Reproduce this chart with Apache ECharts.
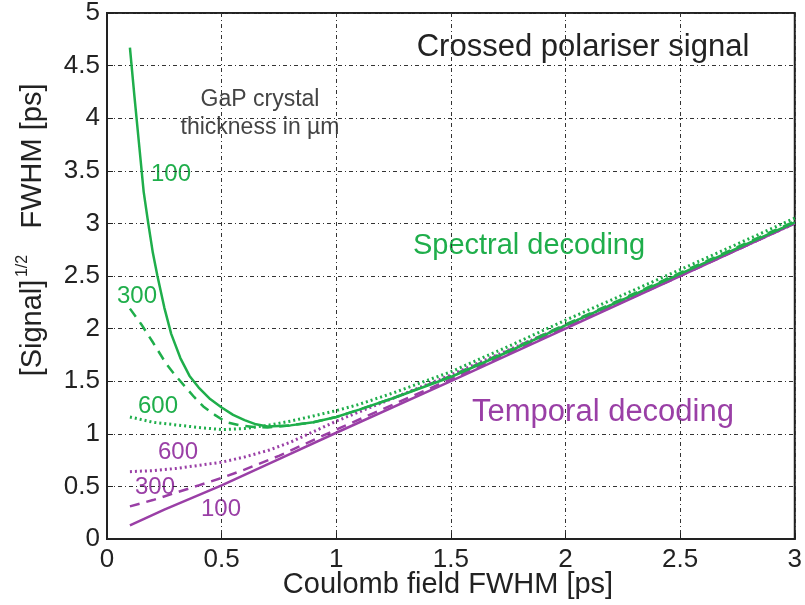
<!DOCTYPE html>
<html>
<head>
<meta charset="utf-8">
<script src="https://cdn.jsdelivr.net/npm/echarts@6/dist/echarts.min.js"></script>
<style>
  html, body { margin: 0; padding: 0; background: #fff; }
  #chart { width: 805px; height: 605px; }
</style>
</head>
<body>
<div id="chart"></div>
<script>
// values (x = Coulomb field FWHM, y = sqrt signal FWHM)
var spec100X = [0.1, 0.12, 0.14, 0.16, 0.18, 0.2, 0.22, 0.25, 0.28, 0.32, 0.36, 0.4, 0.45, 0.5, 0.55, 0.6, 0.65, 0.7, 0.8, 0.9, 1.0, 1.1, 1.25, 1.5, 1.75, 2.0, 2.5, 3.0]
var spec100Y = [4.67, 4.2, 3.75, 3.3, 3.0, 2.72, 2.5, 2.2, 1.95, 1.72, 1.55, 1.44, 1.33, 1.25, 1.18, 1.13, 1.09, 1.07, 1.08, 1.11, 1.16, 1.23, 1.34, 1.54, 1.78, 2.03, 2.52, 3.01]

var spec300X = [0.1, 0.15, 0.2, 0.26, 0.3, 0.34, 0.38, 0.42, 0.47, 0.52, 0.58, 0.64, 0.7, 0.8, 0.9, 1.0, 1.1, 1.25, 1.5, 1.75, 2.0, 2.5, 3.0]
var spec300Y = [2.19, 2.04, 1.87, 1.66, 1.55, 1.45, 1.35, 1.26, 1.18, 1.11, 1.08, 1.065, 1.06, 1.08, 1.11, 1.16, 1.23, 1.34, 1.55, 1.79, 2.04, 2.53, 3.02]

var spec600X = [0.1, 0.2, 0.28, 0.4, 0.5, 0.6, 0.7, 0.8, 0.9, 1.0, 1.1, 1.25, 1.5, 1.75, 2.0, 2.5, 3.0]
var spec600Y = [1.16, 1.11, 1.09, 1.06, 1.04, 1.05, 1.08, 1.12, 1.17, 1.22, 1.28, 1.39, 1.59, 1.83, 2.08, 2.56, 3.05]

var temp100X = [0.1, 0.25, 0.5, 0.75, 1.0, 1.5, 2.0, 2.5, 3.0]
var temp100Y = [0.13, 0.28, 0.51, 0.76, 1.01, 1.5, 2.0, 2.5, 3.0]

var temp300X = [0.1, 0.2, 0.3, 0.4, 0.5, 0.6, 0.75, 1.0, 1.25, 1.5, 2.0, 2.5, 3.0]
var temp300Y = [0.31, 0.37, 0.44, 0.51, 0.58, 0.66, 0.79, 1.04, 1.28, 1.52, 2.01, 2.5, 3.0]

var temp600X = [0.1, 0.2, 0.3, 0.4, 0.5, 0.6, 0.7, 0.8, 0.9, 1.0, 1.25, 1.5, 2.0, 2.5, 3.0]
var temp600Y = [0.64, 0.65, 0.67, 0.7, 0.73, 0.78, 0.84, 0.92, 1.02, 1.12, 1.34, 1.56, 2.03, 2.51, 3.0]

var GREEN = '#1fae4b'
var PURPLE = '#9a3fa6'
var FONT = 'Liberation Sans, Arial, sans-serif'

function pairs(xs, ys) {
  return xs.map(function (x, i) { return [x, ys[i]] })
}

function line(name, xs, ys, color, type, width) {
  return {
    name: name,
    type: 'line',
    data: pairs(xs, ys),
    showSymbol: false,
    lineStyle: { color: color, width: width, type: type },
    z: 3
  }
}

function label(text, x, y, size, color, rotation) {
  return {
    type: 'text', x: x, y: y, rotation: rotation || 0,
    style: { text: text, fontSize: size, fill: color, fontFamily: FONT, align: 'center', verticalAlign: 'middle' }
  }
}

var chart = echarts.init(document.getElementById('chart'))

var option = {
  animation: false,
  grid: {
    left: 107, right: 5, top: 13, bottom: 66,
    show: true, borderColor: '#222', borderWidth: 2
  },
  xAxis: {
    type: 'value', min: 0, max: 3, interval: 0.5,
    axisLine: { show: true, lineStyle: { color: '#222', width: 2 } },
    axisTick: { show: true, inside: true, length: 6 },
    axisLabel: { fontSize: 26, color: '#222', margin: 8, fontFamily: FONT },
    splitLine: { show: true, lineStyle: { color: '#333', type: [4, 3, 1, 3] } }
  },
  yAxis: {
    type: 'value', min: 0, max: 5, interval: 0.5,
    axisLine: { show: true, lineStyle: { color: '#222', width: 2 } },
    axisTick: { show: true, inside: true, length: 6 },
    axisLabel: { fontSize: 26, color: '#222', margin: 7, fontFamily: FONT },
    splitLine: { show: true, lineStyle: { color: '#333', type: [4, 3, 1, 3] } }
  },
  series: [
    line('Spectral 600', spec600X, spec600Y, GREEN, [2, 3], 3),
    line('Spectral 300', spec300X, spec300Y, GREEN, [10, 7], 2.5),
    line('Temporal 600', temp600X, temp600Y, PURPLE, [2, 3], 3),
    line('Temporal 300', temp300X, temp300Y, PURPLE, [10, 7], 2.5),
    line('Temporal 100', temp100X, temp100Y, PURPLE, 'solid', 2.5),
    line('Spectral 100', spec100X, spec100Y, GREEN, 'solid', 2.5)
  ],
  graphic: [
    label('Coulomb field FWHM [ps]', 448, 585, 29, '#222'),
    label('FWHM [ps]', 33, 156, 29, '#222', Math.PI / 2),
    label('[Signal]', 33, 328, 29, '#222', Math.PI / 2),
    label('1/2', 23, 266, 16, '#222', Math.PI / 2),
    label('Crossed polariser signal', 583, 47, 31, '#222'),
    label('GaP crystal', 260, 100, 23, '#444'),
    label('thickness in \u00b5m', 260, 128, 23, '#444'),
    label('100', 171, 174, 24, GREEN),
    label('300', 137, 296, 24, GREEN),
    label('600', 158, 406, 24, GREEN),
    label('Spectral decoding', 529, 246, 29, GREEN),
    label('Temporal decoding', 603, 412, 31, PURPLE),
    label('600', 178, 452, 24, PURPLE),
    label('300', 155, 487, 24, PURPLE),
    label('100', 221, 509, 24, PURPLE)
  ]
}

chart.setOption(option)
</script>
</body>
</html>
